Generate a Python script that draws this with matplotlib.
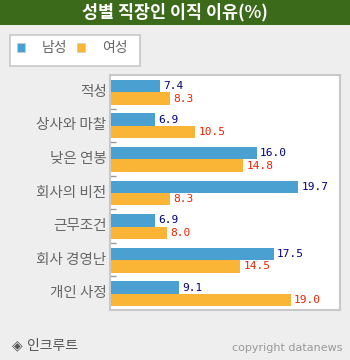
import matplotlib
matplotlib.use("Agg")
import matplotlib.pyplot as plt
from matplotlib.patches import Rectangle

plt.rcParams["font.family"] = ["Noto Sans CJK KR", "DejaVu Sans"]

# data
categories = ["적성", "상사와 마찰", "낮은 연봉", "회사의 비전", "근무조건", "회사 경영난", "개인 사정"]
male = [7.4, 6.9, 16.0, 19.7, 6.9, 17.5, 9.1]
female = [8.3, 10.5, 14.8, 8.3, 8.0, 14.5, 19.0]
series_names = ["남성", "여성"]

blue = "#4aa0d1"
orange = "#fbb536"
bg = "#eeeeee"

fig = plt.figure(figsize=(3.5, 3.6), dpi=100, facecolor=bg)

# title bar
fig.patches.append(Rectangle((0, 1 - 25 / 360), 1, 25 / 360, transform=fig.transFigure,
                             facecolor="#3c6a1b", edgecolor="none", zorder=0))
fig.text(0.5, 1 - 12.5 / 360, "성별 직장인 이직 이유(%)", color="white", fontsize=12.5,
         fontweight="bold", ha="center", va="center")

# legend box
fig.patches.append(Rectangle((10 / 350, 1 - 66 / 360), 130 / 350, 31 / 360, transform=fig.transFigure,
                             facecolor="white", edgecolor="#c8c8c8", linewidth=1.2, zorder=0))
for i, (name, col) in enumerate(zip(series_names, [blue, orange])):
    x0 = 17 + i * 60
    fig.patches.append(Rectangle((x0 / 350, 1 - 51.5 / 360), 8 / 350, 8 / 360, transform=fig.transFigure,
                                 facecolor=col, edgecolor="#cccccc", linewidth=0.5))
    fig.text((x0 + 25) / 350, 1 - 48 / 360, name, color="#666666", fontsize=10, va="center")

# main plot
ax = fig.add_axes([110 / 350, 50 / 360, 230 / 350, 235 / 360])
ax.set_facecolor("white")
n = len(categories)
ys = list(range(n))
h = 0.37
ax.barh([y - 0.17 for y in ys], male, height=h, color=blue, left=0)
ax.barh([y + 0.2 for y in ys], female, height=h, color=orange, left=0)

for y, v in zip(ys, male):
    ax.text(v + 0.3, y - 0.17, f"{v:.1f}", color="#000080", fontsize=8,
            family="DejaVu Sans Mono", va="center")
for y, v in zip(ys, female):
    ax.text(v + 0.3, y + 0.2, f"{v:.1f}", color="#ee2200", fontsize=8,
            family="DejaVu Sans Mono", va="center")

ax.set_xlim(2.94, 23.4)
ax.set_ylim(n - 0.5, -0.5)
ax.set_xticks([])
ax.set_yticks([y + 0.5 for y in ys[:-1]])
ax.set_yticklabels([])
ax.tick_params(axis="y", direction="in", length=4, width=1, color="#999999")
for y, c in zip(ys, categories):
    ax.text(-0.015, y, c, transform=ax.get_yaxis_transform(), ha="right", va="center",
            color="#666666", fontsize=10.5)
for s in ax.spines.values():
    s.set_color("#c8c8c8")
    s.set_linewidth(1.5)

# footer
fig.text(12 / 350, 1 - 345 / 360, "◈ 인크루트", color="#555555", fontsize=10, va="center",
         family=["DejaVu Sans", "Noto Sans CJK KR"])
fig.text(343 / 350, 1 - 348 / 360, "copyright datanews", color="#999999", fontsize=8,
         ha="right", va="center", family="DejaVu Sans")

fig.savefig("out.png", dpi=100, facecolor=bg)
